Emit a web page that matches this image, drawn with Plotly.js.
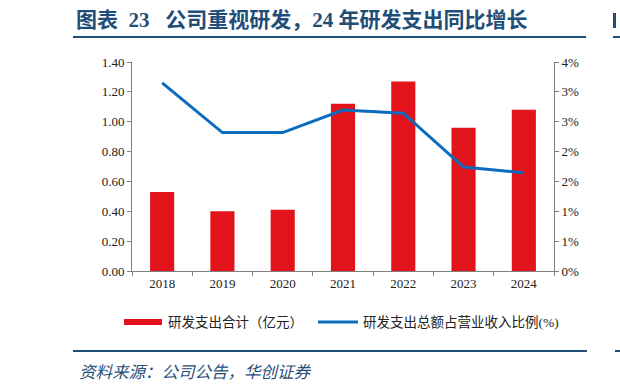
<!DOCTYPE html>
<html>
<head>
<meta charset="utf-8">
<script src="https://cdn.plot.ly/plotly-3.0.1.min.js"></script>
<style>html,body{margin:0;padding:0;background:#fff;}#chart{width:620px;height:392px;}</style>
</head>
<body>
<div id="chart"></div>
<script>
const years = ['2018', '2019', '2020', '2021', '2022', '2023', '2024'];
const rdSpend = [0.53, 0.40, 0.41, 1.12, 1.27, 0.96, 1.08];          // 亿元
const rdRatio = [3.60, 2.65, 2.65, 3.08, 3.02, 1.99, 1.88];          // %
const leftTickVals = [0, 0.2, 0.4, 0.6, 0.8, 1.0, 1.2, 1.4];
const rightTickVals = [0, 0.5714, 1.1429, 1.7143, 2.2857, 2.8571, 3.4286, 4.0];
const rightTickText = ['0%', '1%', '1%', '2%', '2%', '3%', '3%', '4%'];
const titleText = '图表\u00a0\u00a023\u00a0\u00a0\u00a0公司重视研发，24 年研发支出同比增长';
const legendBar = '研发支出合计（亿元）';
const legendLine = '研发支出总额占营业收入比例(%)';
const sourceText = '资料来源：公司公告，华创证券';

const W = 620, H = 392, L = 132, R = 66, T = 62, B = 121;
const PW = W - L - R, PH = H - T - B;
const fx = p => (p - L) / PW;
const fy = p => (H - B - p) / PH;

const serif = "'Liberation Serif', 'Times New Roman', 'Noto Sans CJK SC', serif";
const navy = '#1F4E79';
const axisGray = '#7F7F7F';

const traces = [
  {
    type: 'bar', x: years, y: rdSpend, name: legendBar,
    marker: {color: '#E3131B'}, width: 0.4, yaxis: 'y', hoverinfo: 'skip'
  },
  {
    type: 'scatter', mode: 'lines', x: years, y: rdRatio, name: legendLine,
    line: {color: '#0A6BBF', width: 3}, yaxis: 'y2', hoverinfo: 'skip'
  }
];

const layout = {
  width: W, height: H,
  margin: {l: L, r: R, t: T, b: B, pad: 0},
  paper_bgcolor: '#fff', plot_bgcolor: '#fff',
  showlegend: false,
  font: {family: serif, size: 13, color: '#222'},
  xaxis: {
    type: 'category', range: [-0.5, 6.5], tickson: 'boundaries',
    ticks: 'outside', ticklen: 4, tickcolor: axisGray,
    showline: true, linecolor: axisGray, linewidth: 1,
    showgrid: false, zeroline: false, fixedrange: true,
    tickfont: {family: serif, size: 13, color: '#222'}
  },
  yaxis: {
    range: [0, 1.4], tickvals: leftTickVals, tickformat: '.2f',
    ticks: 'outside', ticklen: 4, tickcolor: axisGray,
    showline: true, linecolor: axisGray, linewidth: 1,
    showgrid: false, zeroline: false, fixedrange: true,
    tickfont: {family: serif, size: 13, color: '#222'}
  },
  yaxis2: {
    overlaying: 'y', side: 'right', range: [0, 4],
    tickvals: rightTickVals, ticktext: rightTickText,
    ticks: 'outside', ticklen: 4, tickcolor: axisGray,
    showline: true, linecolor: axisGray, linewidth: 1,
    showgrid: false, zeroline: false, fixedrange: true,
    tickfont: {family: serif, size: 13, color: '#222'}
  },
  shapes: [
    {type: 'line', xref: 'paper', yref: 'paper', x0: fx(73), x1: fx(586), y0: fy(37), y1: fy(37), line: {color: navy, width: 2}},
    {type: 'line', xref: 'paper', yref: 'paper', x0: fx(613), x1: fx(622), y0: fy(37), y1: fy(37), line: {color: navy, width: 2}},
    {type: 'rect', xref: 'paper', yref: 'paper', x0: fx(613), x1: fx(616), y0: fy(13), y1: fy(28), line: {width: 0}, fillcolor: navy},
    {type: 'line', xref: 'paper', yref: 'paper', x0: fx(73), x1: fx(587), y0: fy(351), y1: fy(351), line: {color: navy, width: 2}},
    {type: 'line', xref: 'paper', yref: 'paper', x0: fx(615), x1: fx(622), y0: fy(351), y1: fy(351), line: {color: navy, width: 2}},
    {type: 'rect', xref: 'paper', yref: 'paper', x0: fx(124), x1: fx(162), y0: fy(319), y1: fy(325), line: {width: 0}, fillcolor: '#E3131B'},
    {type: 'line', xref: 'paper', yref: 'paper', x0: fx(318), x1: fx(358), y0: fy(322), y1: fy(322), line: {color: '#0A6BBF', width: 3}}
  ],
  annotations: [
    {xref: 'paper', yref: 'paper', x: fx(74), y: fy(20), xanchor: 'left', yanchor: 'middle', showarrow: false,
     text: '<b>' + titleText + '</b>', font: {family: serif, size: 21, color: navy}},
    {xref: 'paper', yref: 'paper', x: fx(166), y: fy(322), xanchor: 'left', yanchor: 'middle', showarrow: false,
     text: legendBar, font: {family: serif, size: 13.5, color: '#222'}},
    {xref: 'paper', yref: 'paper', x: fx(361), y: fy(322), xanchor: 'left', yanchor: 'middle', showarrow: false,
     text: legendLine, font: {family: serif, size: 13.5, color: '#222'}},
    {xref: 'paper', yref: 'paper', x: fx(77), y: fy(372), xanchor: 'left', yanchor: 'middle', showarrow: false,
     text: '<i>' + sourceText + '</i>', font: {family: serif, size: 16.5, color: navy}}
  ]
};

Plotly.newPlot('chart', traces, layout, {staticPlot: true, displayModeBar: false});
</script>
</body>
</html>
